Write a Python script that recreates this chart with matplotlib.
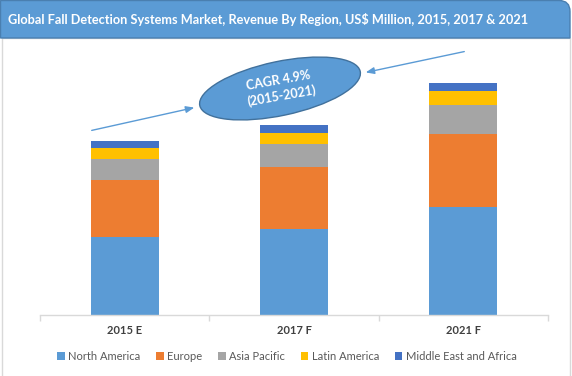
import matplotlib
matplotlib.use("Agg")
import matplotlib.pyplot as plt
import numpy as np
from matplotlib.patches import Ellipse, PathPatch, Rectangle
from matplotlib.path import Path

categories = ["2015 E", "2017 F", "2021 F"]
series_names = ["North America", "Europe", "Asia Pacific", "Latin America", "Middle East and Africa"]
north_america = [78, 86, 108]
europe = [57, 62, 73]
asia_pacific = [21, 23.3, 29]
latin_america = [11, 10.7, 14]
middle_east_africa = [7, 8, 8]
series_values = [north_america, europe, asia_pacific, latin_america, middle_east_africa]
colors = ["#5B9BD5", "#ED7D31", "#A5A5A5", "#FFC000", "#4472C4"]

title = "Global Fall Detection Systems Market, Revenue By Region, US$ Million, 2015, 2017 & 2021"
cagr_text = "CAGR 4.9%\n(2015-2021)"

W, H = 572, 376
fig = plt.figure(figsize=(W / 100, H / 100), dpi=100)

# overlay axes in pixel coordinates (decorations)
ov = fig.add_axes([0, 0, 1, 1], zorder=0)
ov.set_xlim(0, W)
ov.set_ylim(H, 0)
ov.axis("off")

# plot frame
ov.add_patch(Rectangle((1.5, 38), 568.5, 345, facecolor="white", edgecolor="#D9D9D9", lw=1.0))
# title bar with rounded top-right corner only
r = 11
verts = [(0.5, 38), (0.5, 0.5), (570 - r, 0.5), (570, 0.5), (570, 0.5 + r), (570, 38), (0.5, 38)]
codes = [Path.MOVETO, Path.LINETO, Path.LINETO, Path.CURVE3, Path.CURVE3, Path.LINETO, Path.CLOSEPOLY]
ov.add_patch(PathPatch(Path(verts, codes), facecolor="#5B9BD5", edgecolor="#4A7FB0", lw=1.0))
ov.text(8, 19, title, color="white", fontsize=9.2, fontweight="bold", family="Lato",
        ha="left", va="center")

# main chart axes
left, right = 40 / W, 548 / W
bottom = 1 - 315 / H
top = 1 - 40 / H
ax = fig.add_axes([left, bottom, right - left, top - bottom], zorder=1)
ax.patch.set_alpha(0)
x = np.arange(len(categories))
base = np.zeros(len(categories))
handles = []
for name, vals, c in zip(series_names, series_values, colors):
    h = ax.bar(x, vals, width=0.40, bottom=base, color=c, label=name, zorder=2)
    handles.append(h)
    base += np.array(vals)
ax.set_xlim(-0.5, 2.5)
ax.set_ylim(0, 275)
ax.set_yticks([])
for s in ["top", "right", "left"]:
    ax.spines[s].set_visible(False)
ax.spines["bottom"].set_color("#D9D9D9")
ax.spines["bottom"].set_linewidth(1.0)
ax.set_xticks([-0.5, 0.5, 1.5, 2.5], minor=False)
ax.set_xticklabels([])
ax.tick_params(axis="x", which="major", length=4, color="#D9D9D9", width=1)
ax.set_xticks(x, minor=True)
ax.set_xticklabels(categories, minor=True, fontsize=8, fontweight="bold", color="#404040",
                   family="Lato")
ax.tick_params(axis="x", which="minor", length=0, pad=7)

# overlay for ellipse/arrows on top
ov2 = fig.add_axes([0, 0, 1, 1], zorder=3)
ov2.set_xlim(0, W)
ov2.set_ylim(H, 0)
ov2.axis("off")
ov2.patch.set_alpha(0)
ov2.add_patch(Ellipse((280, 88.5), 164, 54, angle=-12, facecolor="#5B9BD5",
                      edgecolor="#41719C", lw=1.0))
ov2.text(280, 88.5, cagr_text, color="white", fontsize=9, fontweight="bold", family="Lato",
         ha="center", va="center", rotation=10, linespacing=1.3)
arrow_kw = dict(arrowstyle="-|>,head_length=0.5,head_width=0.2", color="#5B9BD5", lw=1.0)
ov2.annotate("", xy=(197, 107), xytext=(89, 131), arrowprops=arrow_kw)
ov2.annotate("", xy=(363, 73), xytext=(467, 51), arrowprops=arrow_kw)

leg = fig.legend(handles, series_names, loc="center", bbox_to_anchor=(287 / W, 1 - 356 / H),
                 ncol=5, frameon=False, handlelength=0.7, handleheight=0.7,
                 handletextpad=0.3, columnspacing=1.4, prop={"family": "Lato", "size": 8})
for t in leg.get_texts():
    t.set_color("#595959")

fig.savefig("out.png", dpi=100)
